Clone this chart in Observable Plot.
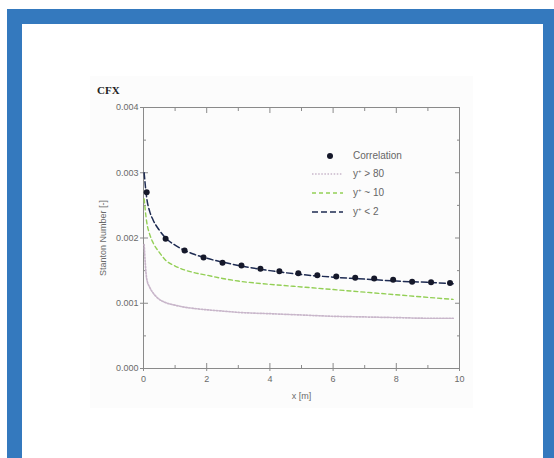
<!DOCTYPE html>
<html>
<head>
<meta charset="utf-8">
<script src="https://cdn.jsdelivr.net/npm/d3@7"></script>
<script src="https://cdn.jsdelivr.net/npm/@observablehq/plot@0.6"></script>
<style>
  html, body { margin: 0; padding: 0; background: #fff; }
  body { width: 554px; height: 458px; position: relative; overflow: hidden; font-family: "Liberation Sans", Arial, sans-serif; }
  #frame { position: absolute; left: 7px; top: 9px; width: 547px; height: 449px; background: #3479be; }
  #page { position: absolute; left: 22px; top: 24px; width: 521px; height: 434px; background: #fff; }
  #sheet { position: absolute; left: 68px; top: 52px; width: 383px; height: 332px; background: #fcfcfc; }
  #chart { position: absolute; left: 0; top: 0; }
  #title { position: absolute; left: 75px; top: 60px; font: bold 11px "Liberation Serif", "DejaVu Serif", serif; color: #222; }
  #legend { position: absolute; left: 288px; top: 124px; font-size: 10px; color: #666; }
  .item { position: absolute; left: 0; height: 14px; width: 120px; }
  .item svg { position: absolute; left: 0; top: 0; }
  .item span { position: absolute; left: 43px; top: 0; line-height: 14px; white-space: nowrap; }
  .item sup { font-size: 6px; vertical-align: 4px; line-height: 0; }
</style>
</head>
<body>
<div id="frame"></div>
<div id="page">
  <div id="sheet"></div>
  <div id="chart"></div>
  <div id="title">CFX</div>
  <div id="legend"></div>
</div>
<script>
// Stanton number along the plate: correlation vs. CFX runs at three wall resolutions
const corrX = [0.1, 0.7, 1.3, 1.9, 2.5, 3.1, 3.7, 4.3, 4.9, 5.5, 6.1, 6.7, 7.3, 7.9, 8.5, 9.1, 9.7];
const corrSt = [0.00270, 0.00199, 0.00181, 0.00170, 0.00162, 0.00158, 0.00153, 0.00149, 0.00146, 0.00143, 0.00141, 0.00139, 0.00138, 0.00136, 0.00133, 0.00132, 0.00131];

const simX = [0.02, 0.1, 0.2, 0.3, 0.5, 0.7, 1, 1.3, 1.6, 2, 2.5, 3, 4, 5, 6, 7, 8, 9, 9.8];
const stYplus80 = [0.00190, 0.00138, 0.00124, 0.00116, 0.00106, 0.00101, 0.00097, 0.00094, 0.00092, 0.00090, 0.00088, 0.00086, 0.00084, 0.00082, 0.00080, 0.00079, 0.00078, 0.00077, 0.00077];
const stYplus10 = [0.00260, 0.00225, 0.00205, 0.00193, 0.00178, 0.00166, 0.00157, 0.00151, 0.00147, 0.00143, 0.00138, 0.00134, 0.00129, 0.00125, 0.00121, 0.00117, 0.00113, 0.00109, 0.00106];
const stYplus2 = [0.00300, 0.00262, 0.00240, 0.00228, 0.00212, 0.00200, 0.00189, 0.00181, 0.00175, 0.00169, 0.00163, 0.00158, 0.00150, 0.00144, 0.00140, 0.00137, 0.00134, 0.00132, 0.00130];

const xMajor = [0, 2, 4, 6, 8, 10];
const xMinor = [1, 3, 5, 7, 9];
const yMajor = [0, 0.001, 0.002, 0.003, 0.004];
const yMinor = [0.0005, 0.0015, 0.0025, 0.0035];
const yTickLabels = ["0.000", "0.001", "0.002", "0.003", "0.004"];

const series = [
  {key: "y80", label: ["y", "+", " > 80"], y: stYplus80, stroke: "#c8b6ca", dash: "1.5,1.6", width: 1.7},
  {key: "y10", label: ["y", "+", " ~ 10"], y: stYplus10, stroke: "#93cf55", dash: "4,3", width: 1.4},
  {key: "y2", label: ["y", "+", " < 2"], y: stYplus2, stroke: "#1e2b52", dash: "6,3", width: 1.5}
];

const corr = corrX.map((x, i) => ({x, st: corrSt[i]}));
const lines = series.map(s => ({...s, rows: simX.map((x, i) => ({x, st: s.y[i]}))}));

const axisColor = "#8a8a8a";
const textColor = "#6a6a6a";

const chart = Plot.plot({
  width: 521,
  height: 400,
  marginLeft: 121,
  marginRight: 84,
  marginTop: 83,
  marginBottom: 56,
  style: {background: "transparent", fontFamily: "Liberation Sans, Arial, sans-serif", fontSize: "9px", color: textColor},
  x: {domain: [0, 10]},
  y: {domain: [0, 0.004]},
  marks: [
    Plot.frame({stroke: axisColor, strokeWidth: 1}),
    // labelled bottom and left axes
    Plot.axisX(xMajor, {anchor: "bottom", tickSize: 3, tickPadding: 4, stroke: axisColor, fill: textColor,
      label: "x [m]", labelAnchor: "center", labelArrow: "none", labelOffset: 30}),
    Plot.axisX(xMajor, {anchor: "bottom", tickSize: -5, text: null, stroke: axisColor, label: null}),
    Plot.axisX(xMinor, {anchor: "bottom", tickSize: -3, text: null, stroke: axisColor, label: null}),
    Plot.axisY(yMajor, {anchor: "left", tickSize: 3, tickPadding: 2, stroke: axisColor, fill: textColor,
      tickFormat: (d, i) => yTickLabels[i],
      label: "Stanton Number [-]", labelAnchor: "center", labelArrow: "none", labelOffset: 44}),
    Plot.axisY(yMajor, {anchor: "left", tickSize: -5, text: null, stroke: axisColor, label: null}),
    Plot.axisY(yMinor, {anchor: "left", tickSize: -3, text: null, stroke: axisColor, label: null}),
    // mirrored top and right ticks
    Plot.axisX(xMajor, {anchor: "top", tickSize: -5, text: null, stroke: axisColor, label: null}),
    Plot.axisX(xMinor, {anchor: "top", tickSize: -3, text: null, stroke: axisColor, label: null}),
    Plot.axisY(yMajor, {anchor: "right", tickSize: -5, text: null, stroke: axisColor, label: null}),
    Plot.axisY(yMinor, {anchor: "right", tickSize: -3, text: null, stroke: axisColor, label: null}),
    ...lines.map(s => Plot.line(s.rows, {x: "x", y: "st", stroke: s.stroke, strokeWidth: s.width,
      strokeDasharray: s.dash, curve: "monotone-x"})),
    Plot.dot(corr, {x: "x", y: "st", r: 3, fill: "#15182a", stroke: "none"})
  ]
});
document.getElementById("chart").appendChild(chart);

// legend
const legend = document.getElementById("legend");
const ns = "http://www.w3.org/2000/svg";
function addItem(top, drawSample, parts) {
  const item = document.createElement("div");
  item.className = "item";
  item.style.top = top + "px";
  const svg = document.createElementNS(ns, "svg");
  svg.setAttribute("width", 40);
  svg.setAttribute("height", 14);
  drawSample(svg);
  item.appendChild(svg);
  const span = document.createElement("span");
  if (typeof parts === "string") span.textContent = parts;
  else {
    span.appendChild(document.createTextNode(parts[0]));
    const sup = document.createElement("sup");
    sup.textContent = parts[1];
    span.appendChild(sup);
    span.appendChild(document.createTextNode(parts[2]));
  }
  item.appendChild(span);
  legend.appendChild(item);
}
addItem(1, svg => {
  const c = document.createElementNS(ns, "circle");
  c.setAttribute("cx", 20); c.setAttribute("cy", 7); c.setAttribute("r", 3);
  c.setAttribute("fill", "#15182a");
  svg.appendChild(c);
}, "Correlation");
series.forEach((s, i) => {
  addItem(19 + i * 19, svg => {
    const l = document.createElementNS(ns, "line");
    l.setAttribute("x1", 2); l.setAttribute("x2", 33);
    l.setAttribute("y1", 7); l.setAttribute("y2", 7);
    l.setAttribute("stroke", s.stroke);
    l.setAttribute("stroke-width", s.width);
    l.setAttribute("stroke-dasharray", s.dash);
    svg.appendChild(l);
  }, s.label);
});
</script>
</body>
</html>
